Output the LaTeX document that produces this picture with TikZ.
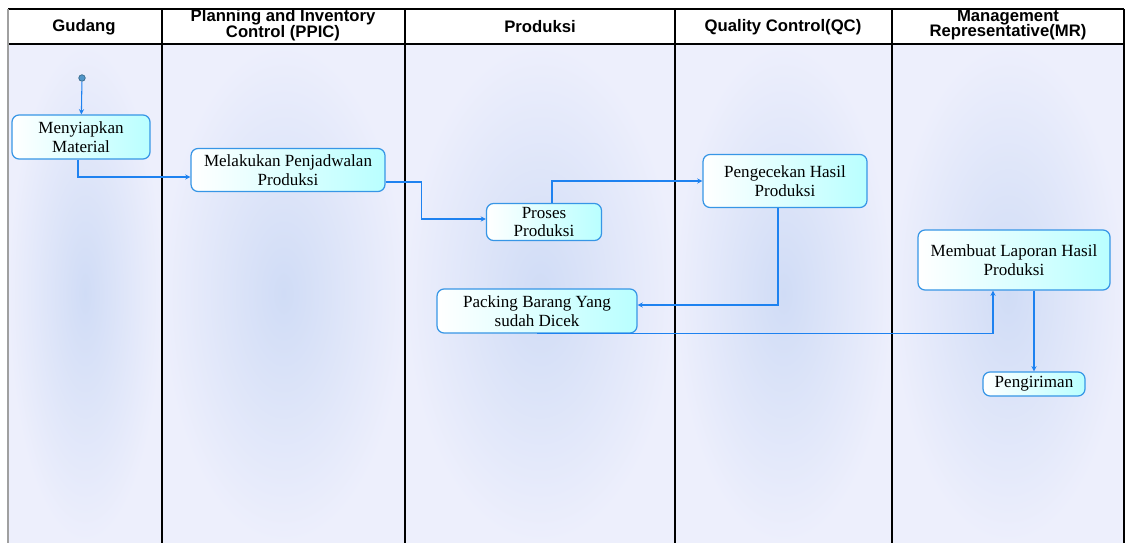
\documentclass[tikz,border=0pt]{standalone}
\usepackage{fontspec}
\setmainfont{Liberation Serif}
\newfontfamily\headfont{Liberation Sans}
\usepackage{tikz}
\usetikzlibrary{positioning, arrows.meta, shapes}
\usepackage{xcolor}
\definecolor{flowblue}{RGB}{30,130,240}
\definecolor{boxedge}{RGB}{55,150,230}
\definecolor{boxcyan}{RGB}{185,255,255}
\definecolor{lanebg}{RGB}{237,239,252}
\definecolor{laneshade}{RGB}{208,220,246}
\definecolor{startfill}{RGB}{80,150,200}
\definecolor{borderleft}{RGB}{160,160,160}

\begin{document}
\begin{tikzpicture}[x=0.02cm, y=-0.02cm,
    actbox/.style={rectangle, rounded corners=4pt, draw=boxedge, line width=0.7pt,
                   left color=white, right color=boxcyan, align=center,
                   inner sep=1pt, font=\fontsize{9.7}{10.6}\selectfont},
    lanehead/.style={align=center, font=\headfont\bfseries\fontsize{9.5}{9}\selectfont},
    flow/.style={-{Stealth[length=3pt, width=3pt]}, flowblue, line width=0.6pt},
    startdot/.style={circle, draw=startfill!70!black, fill=startfill, inner sep=0pt,
                     minimum size=0.13cm}]
        \useasboundingbox (0,0) rectangle (1126,543);
        \fill[white] (0,0) rectangle (1126,543);
        % lanes
        \shade[inner color=laneshade, outer color=lanebg] (8,44) rectangle (162,543);
        \shade[inner color=laneshade, outer color=lanebg] (162,44) rectangle (405,543);
        \shade[inner color=laneshade, outer color=lanebg] (405,44) rectangle (675,543);
        \shade[inner color=laneshade, outer color=lanebg] (675,44) rectangle (892,543);
        \shade[inner color=laneshade, outer color=lanebg] (892,44) rectangle (1124,543);
        \draw[line width=0.6pt] (8,9) -- (1124,9);
        \draw[line width=0.6pt] (8,44) -- (1124,44);
        \foreach \xd in {162, 405, 675, 892, 1124}
          \draw[line width=0.6pt] (\xd,9) -- (\xd,543);
        \draw[borderleft, line width=1.2pt] (8,9) -- (8,543);
        % headers
        \node[lanehead] (hgudang) at (84,27) {Gudang};
        \node[lanehead] (hppic) at (283,25) {Planning and Inventory\\Control (PPIC)};
        \node[lanehead] (hprod) at (540,27) {Produksi};
        \node[lanehead] (hqc) at (783,27) {Quality Control(QC)};
        \node[lanehead] (hmr) at (1008,25) {Management\\Representative(MR)};
        % activities
        \node[startdot] (start) at (82,78) {};
        \node[actbox, minimum width=2.76cm, minimum height=0.88cm] (mat) at (81,137)
          {Menyiapkan\\Material};
        \node[actbox, minimum width=3.88cm, minimum height=0.86cm] (jadwal) at (288,170)
          {Melakukan Penjadwalan\\Produksi};
        \node[actbox, minimum width=2.3cm, minimum height=0.74cm] (proses) at (544,222)
          {Proses\\Produksi};
        \node[actbox, minimum width=3.28cm, minimum height=1.06cm] (cek) at (785,181)
          {Pengecekan Hasil\\Produksi};
        \node[actbox, minimum width=4.0cm, minimum height=0.88cm] (pack) at (537,311)
          {Packing Barang Yang\\sudah Dicek};
        \node[actbox, minimum width=3.84cm, minimum height=1.2cm] (lapor) at (1014,260)
          {Membuat Laporan Hasil\\Produksi};
        \node[actbox, minimum width=2.04cm, minimum height=0.48cm] (kirim) at (1034,384)
          {Pengiriman};
        % flows
        \draw[flow] (start) -- (mat);
        \draw[flow] ([xshift=-0.06cm]mat.south) |- ([yshift=-0.14cm]jadwal.west);
        \draw[flow] ([yshift=-0.24cm]jadwal.east) -- ++(36,0) |- ([yshift=0.06cm]proses.west);
        \draw[flow] ([xshift=0.16cm]proses.north) |- (cek.west);
        \draw[flow] ([xshift=-0.14cm]cek.south) |- ([yshift=0.12cm]pack.east);
        \draw[flow] (pack.south) -| ([xshift=-0.42cm]lapor.south);
        \draw[flow] (lapor.south -| kirim.north) -- (kirim.north);
      \end{tikzpicture}
\end{document}
